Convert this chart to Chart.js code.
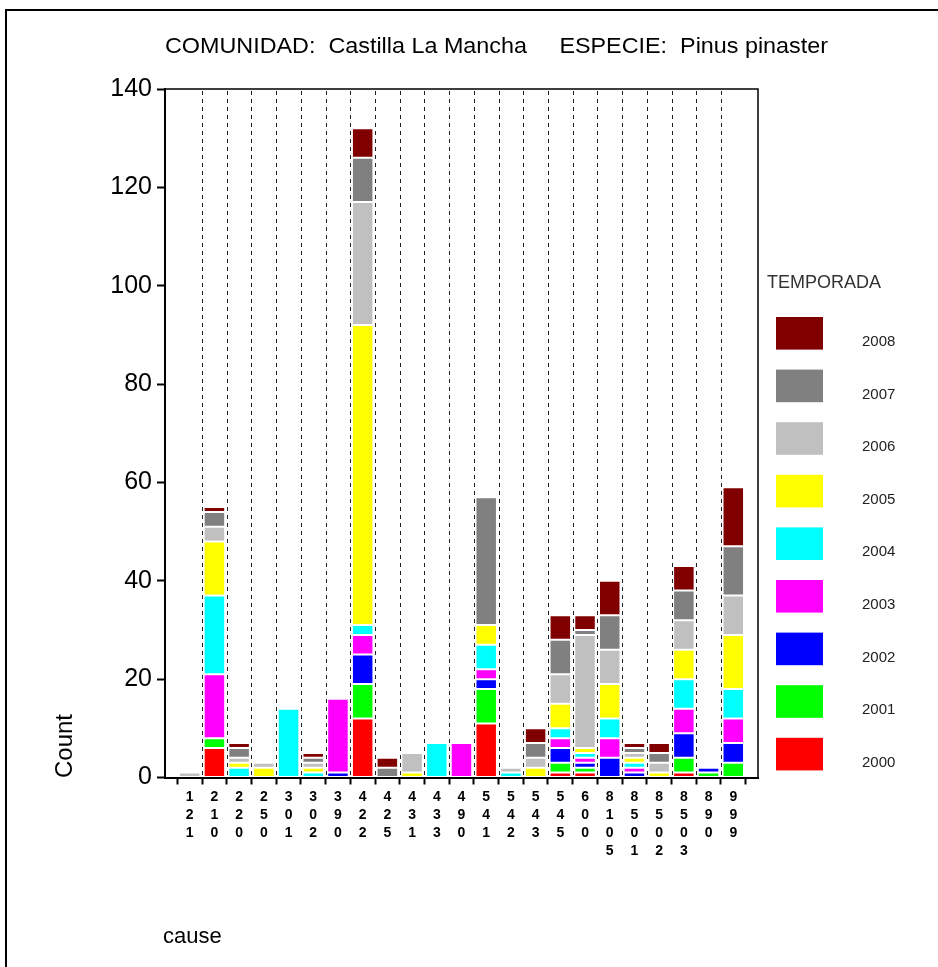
<!DOCTYPE html>
<html>
<head>
<meta charset="utf-8">
<script src="https://cdn.jsdelivr.net/npm/chart.js@4/dist/chart.umd.min.js"></script>
<style>
    html, body { margin: 0; padding: 0; background: #fff; }
    canvas { display: block; }
</style>
</head>
<body>
<canvas id="chart" width="938" height="967"></canvas>
<script>
// categories (fire cause codes)
const causes = ['121', '210', '220', '250', '301', '302', '390', '422', '425', '431', '433', '490',
    '541', '542', '543', '545', '600', '8105', '8501', '8502', '8503', '890', '999'];

// counts per season, one value per cause
const count2000 = [0, 6, 0, 0, 0, 0, 0, 12, 0, 0, 0, 0, 11, 0, 0, 1, 1, 0, 0, 0, 1, 0, 0];
const count2001 = [0, 2, 0, 0, 0, 0, 0, 7, 0, 0, 0, 0, 7, 0, 0, 2, 1, 0, 0, 0, 3, 1, 3];
const count2002 = [0, 0, 0, 0, 0, 0, 1, 6, 0, 0, 0, 0, 2, 0, 0, 3, 1, 4, 1, 0, 5, 1, 4];
const count2003 = [0, 13, 0, 0, 0, 0, 15, 4, 0, 0, 0, 7, 2, 0, 0, 2, 1, 4, 1, 0, 5, 0, 5];
const count2004 = [0, 16, 2, 0, 14, 1, 0, 2, 0, 0, 7, 0, 5, 1, 0, 2, 1, 4, 1, 0, 6, 0, 6];
const count2005 = [0, 11, 1, 2, 0, 1, 0, 61, 0, 1, 0, 0, 4, 0, 2, 5, 1, 7, 1, 1, 6, 0, 11];
const count2006 = [1, 3, 1, 1, 0, 1, 0, 25, 0, 4, 0, 0, 0, 1, 2, 6, 23, 7, 1, 2, 6, 0, 8];
const count2007 = [0, 3, 2, 0, 0, 1, 0, 9, 2, 0, 0, 0, 26, 0, 3, 7, 1, 7, 1, 2, 6, 0, 10];
const count2008 = [0, 1, 1, 0, 0, 1, 0, 6, 2, 0, 0, 0, 0, 0, 3, 5, 3, 7, 1, 2, 5, 0, 12];

const seasons = ['2000', '2001', '2002', '2003', '2004', '2005', '2006', '2007', '2008'];
const seasonCounts = [count2000, count2001, count2002, count2003, count2004, count2005, count2006, count2007, count2008];
const seasonColors = ['#ff0000', '#00ff00', '#0000ff', '#ff00ff', '#00ffff', '#ffff00', '#c0c0c0', '#808080', '#800000'];

const yTicks = [0, 20, 40, 60, 80, 100, 120, 140];

const FONT = "'Liberation Sans', Arial, sans-serif";
const NARROW = "'Liberation Sans Narrow', 'Liberation Sans', Arial, sans-serif";

const datasets = seasons.map((s, k) => ({
    label: s,
    data: seasonCounts[k].map((v, i) => ({ x: i, y: v > 0 ? v : null })),
    backgroundColor: seasonColors[k],
    borderColor: 'rgba(255,255,255,0.75)',
    borderWidth: 1,
    borderSkipped: false,
}));

const decorations = {
    id: 'decorations',
    beforeDatasetsDraw(chart) {
        const { ctx, chartArea: a, scales: { x } } = chart;
        ctx.save();
        ctx.strokeStyle = '#222';
        ctx.lineWidth = 1;
        ctx.setLineDash([4, 4]);
        for (let i = 0; i < causes.length - 1; i++) {
            const px = Math.round(x.getPixelForValue(i + 0.5)) + 0.5;
            ctx.beginPath();
            ctx.moveTo(px, a.top + 2);
            ctx.lineTo(px, a.bottom);
            ctx.stroke();
        }
        ctx.restore();
    },
    afterDraw(chart) {
        const { ctx, chartArea: a } = chart;
        ctx.save();

        // outer frame (runs off the right and bottom edges)
        ctx.strokeStyle = '#000';
        ctx.lineWidth = 2;
        ctx.beginPath();
        ctx.moveTo(6, chart.height + 5);
        ctx.lineTo(6, 10);
        ctx.lineTo(chart.width + 5, 10);
        ctx.stroke();

        // top and right of plot box
        ctx.lineWidth = 1.5;
        ctx.beginPath();
        ctx.moveTo(a.left, a.top);
        ctx.lineTo(a.right, a.top);
        ctx.lineTo(a.right, a.bottom);
        ctx.stroke();

        // title, squeezed to the original width
        const title = 'COMUNIDAD:  Castilla La Mancha     ESPECIE:  Pinus pinaster';
        ctx.fillStyle = '#000';
        ctx.font = '22px ' + FONT;
        ctx.textBaseline = 'alphabetic';
        ctx.textAlign = 'left';
        const w = ctx.measureText(title).width;
        ctx.save();
        ctx.translate(165, 53);
        ctx.scale(663 / w, 1);
        ctx.fillText(title, 0, 0);
        ctx.restore();

        // axis titles
        ctx.font = '24px ' + FONT;
        ctx.save();
        ctx.translate(72, 778);
        ctx.rotate(-Math.PI / 2);
        ctx.fillText('Count', 0, 0);
        ctx.restore();
        ctx.font = '22px ' + FONT;
        ctx.fillText('cause', 163, 943);

        // legend, newest season on top
        ctx.fillStyle = '#333';
        ctx.font = '18px ' + FONT;
        ctx.fillText('TEMPORADA', 767, 288);
        ctx.font = '15px ' + FONT;
        for (let j = 0; j < seasons.length; j++) {
            const k = seasons.length - 1 - j;
            const top = 317 + j * 52.6;
            ctx.fillStyle = seasonColors[k];
            ctx.fillRect(776, top, 47, 32.6);
            ctx.fillStyle = '#222';
            ctx.fillText(seasons[k], 862, top + 29);
        }
        ctx.restore();
    },
};

new Chart(document.getElementById('chart').getContext('2d'), {
    type: 'bar',
    data: { datasets },
    options: {
        responsive: false,
        animation: false,
        layout: { padding: { top: 89, right: 180, bottom: 0, left: 0 } },
        datasets: { bar: { barPercentage: 0.87, categoryPercentage: 1 } },
        plugins: {
            legend: { display: false },
            tooltip: { enabled: false },
        },
        scales: {
            x: {
                type: 'linear',
                stacked: true,
                offset: false,
                min: -1,
                max: causes.length,
                afterBuildTicks: (scale) => {
                    scale.ticks = causes.map((_, i) => ({ value: i }));
                },
                afterFit: (scale) => { scale.height = 189.5; },
                ticks: {
                    autoSkip: false,
                    maxRotation: 0,
                    minRotation: 0,
                    padding: 4,
                    color: '#000',
                    font: { family: NARROW, size: 14, weight: 'bold', lineHeight: 1.28 },
                    callback: (v) => (causes[v] ? causes[v].split('') : ''),
                },
                grid: { drawOnChartArea: false, tickLength: 7, tickWidth: 2, tickColor: '#000' },
                border: { color: '#000', width: 2 },
            },
            y: {
                stacked: true,
                min: 0,
                max: 140,
                afterBuildTicks: (scale) => {
                    scale.ticks = yTicks.map((v) => ({ value: v }));
                },
                afterFit: (scale) => { scale.width = 165; },
                ticks: {
                    padding: 5,
                    color: '#000',
                    font: { family: FONT, size: 25 },
                },
                grid: { drawOnChartArea: false, tickLength: 8, tickWidth: 2, tickColor: '#000' },
                border: { color: '#000', width: 2 },
            },
        },
    },
    plugins: [decorations],
});
</script>
</body>
</html>
